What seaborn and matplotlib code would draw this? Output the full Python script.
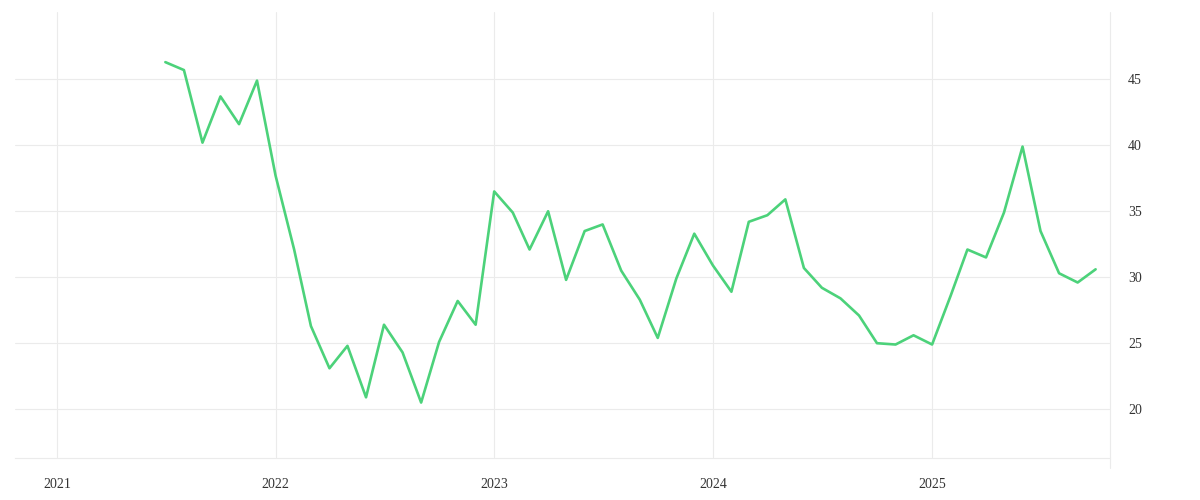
import pandas as pd
import matplotlib.pyplot as plt
import matplotlib.dates as mdates
import seaborn as sns

# --- DATA (monthly values, Jul 2021 - Oct 2025) ---
start_month = "2021-07-01"
values = [
    46.3, 45.7, 40.2, 43.7, 41.6, 44.9,
    37.7, 32.1, 26.3, 23.1, 24.8, 20.9, 26.4, 24.3, 20.5, 25.1, 28.2, 26.4,
    36.5, 34.9, 32.1, 35.0, 29.8, 33.5, 34.0, 30.5, 28.3, 25.4, 29.9, 33.3,
    30.9, 28.9, 34.2, 34.7, 35.9, 30.7, 29.2, 28.4, 27.1, 25.0, 24.9, 25.6,
    24.9, 28.6, 32.1, 31.5, 34.9, 39.9, 33.5, 30.3, 29.6, 30.6,
]
year_ticks = ["2021", "2022", "2023", "2024", "2025"]
y_ticks = [20, 25, 30, 35, 40, 45]

df = pd.DataFrame({
    "date": pd.date_range(start_month, periods=len(values), freq="MS"),
    "value": values,
})

sns.set_style("white")
plt.rcParams["font.family"] = ["Liberation Serif", "DejaVu Serif"]

GRID = "#ebebeb"
TEXT = "#333333"

fig = plt.figure(figsize=(12, 5), dpi=100)
ax = fig.add_axes([15 / 1200, 1 - 458 / 500, 1095 / 1200, 446 / 500])

sns.lineplot(data=df, x="date", y="value", ax=ax, color="#4cd27a", linewidth=1.9)

ax.set_xlim(pd.Timestamp("2020-10-23"), pd.Timestamp("2025-10-25"))
ax.set_ylim(16.3, 50.1)

ax.set_xticks([pd.Timestamp(f"{y}-01-01") for y in year_ticks])
ax.xaxis.set_major_formatter(mdates.DateFormatter("%Y"))
ax.set_yticks(y_ticks)

ax.yaxis.tick_right()
ax.tick_params(axis="y", length=0, pad=13, labelsize=10, labelcolor=TEXT)
ax.tick_params(axis="x", length=7.2, width=0.8, color=GRID, pad=7,
               labelsize=10, labelcolor=TEXT)

ax.grid(True, color=GRID, linewidth=0.8)
ax.set_axisbelow(True)

for side in ["top", "left", "right"]:
    ax.spines[side].set_visible(False)
ax.spines["bottom"].set_color(GRID)
ax.spines["bottom"].set_linewidth(0.8)

# right edge line, running down like a tick
ax.axvline(ax.get_xlim()[1], ymin=-10 / 446, ymax=1, color=GRID,
           linewidth=0.8, clip_on=False)

ax.set_xlabel("")
ax.set_ylabel("")

fig.savefig("out.png", dpi=100)
